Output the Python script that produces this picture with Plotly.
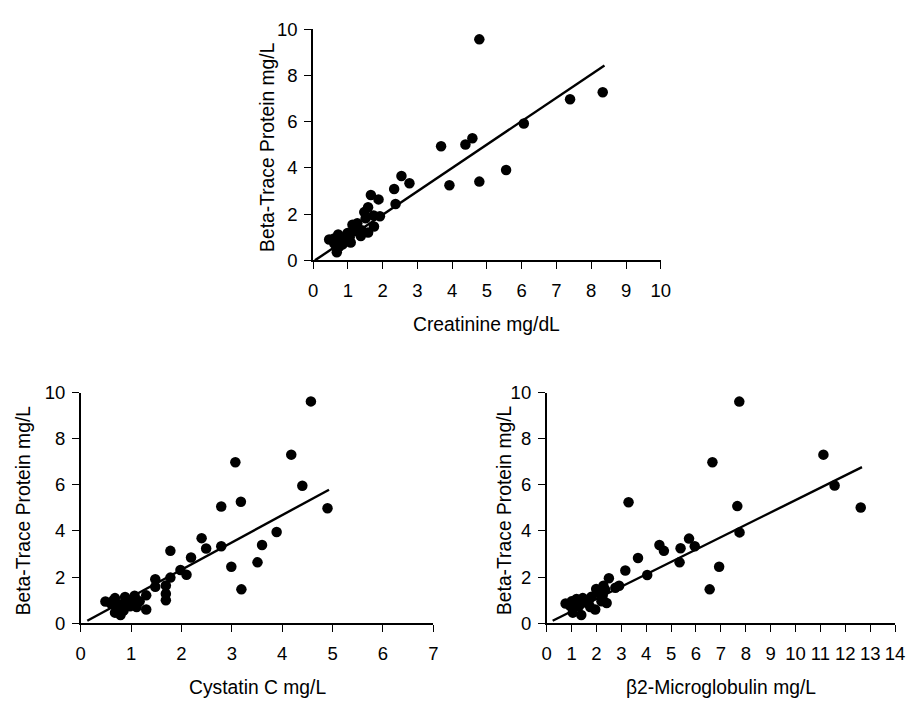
import plotly.graph_objects as go

W, H = 916, 707

# ---- data ----
creat_x = [4.78, 8.33, 7.39, 6.06, 4.58, 4.38, 3.68, 5.55, 4.78, 3.92, 2.54, 2.77, 2.33, 2.37,
           1.66, 1.88, 1.58, 1.47, 1.74, 1.92, 1.75, 1.58, 0.46, 0.72, 0.68, 1.13, 1.27, 1.37,
           1.08, 0.85, 0.61, 0.94, 1.18, 0.80, 0.99, 1.51, 0.70, 0.60, 1.05, 1.20, 0.90, 1.40,
           0.75, 0.65]
creat_y = [9.57, 7.28, 6.98, 5.93, 5.29, 5.02, 4.94, 3.91, 3.41, 3.25, 3.65, 3.34, 3.09, 2.44,
           2.83, 2.64, 2.30, 2.09, 1.94, 1.91, 1.47, 1.21, 0.90, 1.12, 0.35, 1.54, 1.61, 1.05,
           0.77, 0.70, 0.73, 0.98, 1.26, 0.91, 1.19, 1.82, 0.55, 0.95, 1.00, 1.35, 0.80, 1.30,
           0.60, 0.85]
creat_fit_x = [0.05, 8.38]
creat_fit_y = [0.0, 8.44]

cys_x = [4.57, 4.18, 3.07, 4.40, 3.18, 2.79, 4.90, 3.89, 2.40, 3.60, 2.79, 2.49, 1.78, 2.19,
         3.51, 2.99, 1.98, 2.10, 1.78, 1.48, 1.69, 1.48, 3.19, 1.69, 1.69, 1.30, 1.30, 0.49,
         0.68, 0.88, 1.07, 0.68, 0.79, 0.98, 1.11, 0.88, 0.75, 0.60, 0.95, 1.17, 0.72, 0.85,
         1.02, 0.65]
cys_y = [9.62, 7.31, 6.98, 5.96, 5.27, 5.06, 4.99, 3.96, 3.69, 3.39, 3.34, 3.24, 3.14, 2.85,
         2.64, 2.45, 2.31, 2.10, 1.98, 1.91, 1.64, 1.58, 1.47, 1.28, 1.00, 1.21, 0.60, 0.94,
         1.09, 1.14, 1.19, 0.46, 0.36, 0.74, 0.70, 0.95, 0.80, 0.85, 1.00, 0.95, 0.65, 0.55,
         0.90, 1.00]
cys_fit_x = [0.13, 4.93]
cys_fit_y = [0.11, 5.79]

b2m_x = [7.74, 11.12, 6.66, 11.57, 3.29, 7.66, 12.62, 7.75, 5.72, 5.95, 4.53, 4.71, 5.38, 5.34,
         6.93, 3.67, 3.16, 4.04, 6.55, 2.50, 2.91, 2.76, 2.28, 1.99, 2.41, 1.95, 1.39, 1.05,
         0.76, 1.16, 1.45, 1.68, 0.95, 1.30, 1.55, 1.80, 2.10, 2.25, 1.75, 2.20, 1.20, 2.35, 1.00]
b2m_y = [9.61, 7.31, 6.98, 5.97, 5.25, 5.08, 5.02, 3.94, 3.67, 3.34, 3.39, 3.14, 3.25, 2.64,
         2.45, 2.83, 2.29, 2.09, 1.47, 1.95, 1.63, 1.54, 1.63, 1.49, 0.88, 0.60, 0.36, 0.46,
         0.86, 0.98, 1.09, 0.88, 0.75, 0.75, 0.90, 1.15, 1.30, 1.20, 0.70, 0.95, 1.05, 1.45, 0.95]
b2m_fit_x = [0.24, 12.67]
b2m_fit_y = [0.11, 6.77]

y_title = "Beta-Trace Protein mg/L"
x_titles = ["Creatinine mg/dL", "Cystatin C mg/L", "β2-Microglobulin mg/L"]
x_ranges = [[0, 10], [0, 7], [0, 14]]
y_range = [0, 10]

# ---- layout geometry (page pixels) ----
panels = [
    dict(x0=313.3, x1=666.7, ytop=19, ybot=257),
    dict(x0=77.0, x1=435.4, ytop=393.3, ybot=631),
    dict(x0=550.7, x1=904.9, ytop=393.3, ybot=631),
]
ytitle_x = [267, 18.3, 508]
xtitle_y = [323.3, 696.7, 696.7]


def px(x):
    return x / W


def py(y):
    return 1 - y / H


FONT = "Liberation Sans, Arial, sans-serif"
fig = go.Figure()
series = [(creat_x, creat_y, creat_fit_x, creat_fit_y),
          (cys_x, cys_y, cys_fit_x, cys_fit_y),
          (b2m_x, b2m_y, b2m_fit_x, b2m_fit_y)]

for i, (sx, sy, fx, fy) in enumerate(series):
    xa = "x" if i == 0 else f"x{i+1}"
    ya = "y" if i == 0 else f"y{i+1}"
    fig.add_trace(go.Scatter(x=fx, y=fy, mode="lines", xaxis=xa, yaxis=ya,
                             line=dict(color="black", width=2.4), showlegend=False,
                             hoverinfo="skip", cliponaxis=False))
    fig.add_trace(go.Scatter(x=sx, y=sy, mode="markers", xaxis=xa, yaxis=ya,
                             marker=dict(color="black", size=10.5), showlegend=False,
                             cliponaxis=False))

for i, p in enumerate(panels):
    xk = "xaxis" if i == 0 else f"xaxis{i+1}"
    yk = "yaxis" if i == 0 else f"yaxis{i+1}"
    xa_ref = "y" if i == 0 else f"y{i+1}"
    ya_ref = "x" if i == 0 else f"x{i+1}"
    common = dict(showline=True, linecolor="black", linewidth=1.6, ticks="outside",
                  ticklen=7, tickwidth=1.3, tickcolor="black", showgrid=False,
                  zeroline=False, tickfont=dict(family=FONT, size=18.5, color="black"),
                  fixedrange=True)
    fig.layout[xk] = dict(domain=[px(p["x0"]), px(p["x1"])], range=x_ranges[i],
                          dtick=1, anchor=xa_ref, ticklabelstandoff=6, **common)
    fig.layout[yk] = dict(domain=[py(p["ybot"]), py(p["ytop"])], range=y_range,
                          dtick=2, anchor=ya_ref, ticklabelstandoff=3, **common)

# axis titles as annotations
title_font = dict(family=FONT, size=19.3, color="black")
for i, p in enumerate(panels):
    fig.add_annotation(x=px(ytitle_x[i]), y=py((p["ytop"] + p["ybot"]) / 2 + 2.5),
                       xref="paper", yref="paper", text=y_title, textangle=-90,
                       showarrow=False, font=title_font, xanchor="center", yanchor="middle")
    fig.add_annotation(x=px((p["x0"] + p["x1"]) / 2), y=py(xtitle_y[i]),
                       xref="paper", yref="paper", text=x_titles[i],
                       showarrow=False, font=title_font, xanchor="center", yanchor="middle")

fig.update_layout(width=W, height=H, margin=dict(l=0, r=0, t=0, b=0),
                  paper_bgcolor="white", plot_bgcolor="white")

fig.write_html("out.html", config={"displayModeBar": False},
               post_script="document.body.style.margin='0';document.body.style.overflow='hidden';")
